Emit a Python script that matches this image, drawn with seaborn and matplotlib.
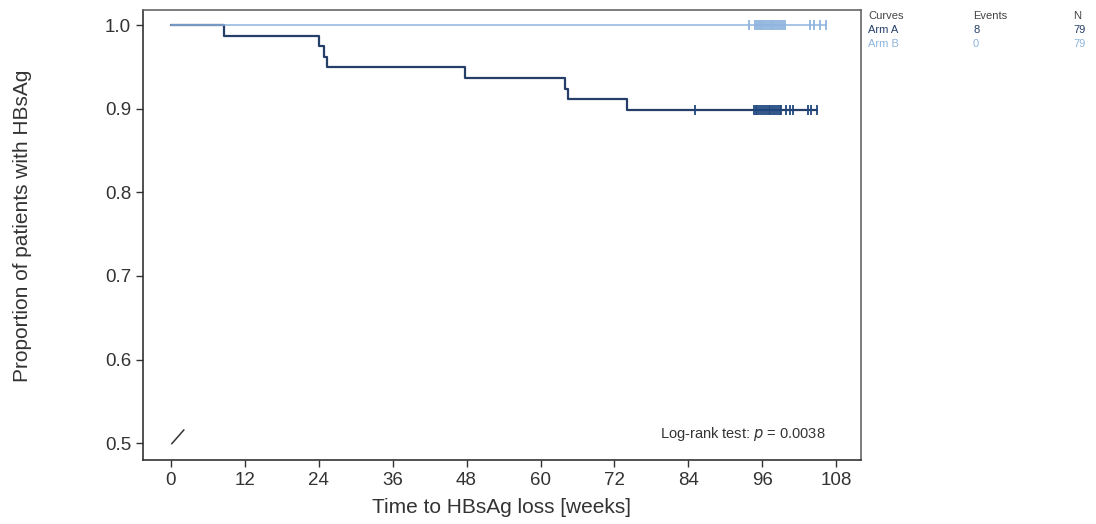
import numpy as np
import pandas as pd
import matplotlib
matplotlib.use("Agg")
import matplotlib.pyplot as plt
import seaborn as sns

# ---------------- data ----------------
arm_labels = ["Arm A", "Arm B"]
arm_colors = ["#263f68", "#8fb4de"]
marker_colors = ["#20487f", "#8fb4de"]
n_patients = [79, 79]

arm_a_event_times = [8.7, 24.0, 24.8, 25.4, 47.7, 64.0, 64.4, 74.0]
arm_a_censor_times = [85.0,
                      94.6, 94.9, 95.2, 95.5, 95.8, 96.1, 96.4, 96.7, 97.0, 97.3,
                      97.6, 97.9, 98.2, 98.5, 98.8, 99.1,
                      99.9, 100.5, 101.0, 103.4, 103.9, 104.9]
arm_a_censor_counts = [1,
                       4, 4, 4, 4, 4, 4, 4, 4, 4, 4,
                       4, 4, 4, 4, 4, 4,
                       1, 1, 1, 1, 1, 1]

arm_b_event_times = []
arm_b_censor_times = [93.8,
                      94.8, 95.1, 95.4, 95.7, 96.0, 96.3, 96.6, 96.9, 97.2, 97.5,
                      97.8, 98.1, 98.4, 98.7, 99.0, 99.3, 99.6,
                      103.8, 104.3, 105.4, 106.4]
arm_b_censor_counts = [1,
                       4, 4, 5, 5, 5, 5, 5, 5, 5, 5,
                       4, 4, 4, 4, 3, 3, 4,
                       1, 1, 1, 1]

x_ticks = [0, 12, 24, 36, 48, 60, 72, 84, 96, 108]
y_ticks = [0.5, 0.6, 0.7, 0.8, 0.9, 1.0]
p_value = 0.0038


def km_curve(n, event_times, censor_times, censor_counts):
    ev = pd.DataFrame({"t": event_times, "d": 1, "c": 0})
    ce = pd.DataFrame({"t": censor_times, "d": 0, "c": censor_counts})
    df = pd.concat([ev, ce]).groupby("t", as_index=False).sum().sort_values("t")
    at_risk = n
    s = 1.0
    xs, ys = [0.0], [1.0]
    cens_x, cens_y = [], []
    for t, d, c in zip(df["t"], df["d"], df["c"]):
        if d > 0:
            s *= (at_risk - d) / at_risk
        xs.append(t)
        ys.append(s)
        if c > 0:
            cens_x.append(t)
            cens_y.append(s)
        at_risk -= d + c
    return np.array(xs), np.array(ys), np.array(cens_x), np.array(cens_y)


# ---------------- figure ----------------
sns.set_style("ticks")
plt.rcParams["font.family"] = ["Liberation Sans", "DejaVu Sans"]

fig = plt.figure(figsize=(10.96, 5.24), dpi=100)
ax = fig.add_axes([143 / 1096, 1 - 460 / 524, 718 / 1096, 450 / 524])

arms = [
    (arm_a_event_times, arm_a_censor_times, arm_a_censor_counts),
    (arm_b_event_times, arm_b_censor_times, arm_b_censor_counts),
]
lws = [1.6, 1.1]
for i in [1, 0]:
    evt, ct, cc = arms[i]
    xs, ys, cx, cy = km_curve(n_patients[i], evt, ct, cc)
    sns.lineplot(x=xs, y=ys, drawstyle="steps-post", estimator=None, sort=False,
                 color=arm_colors[i], linewidth=lws[i], ax=ax, zorder=3 + i)
    sns.scatterplot(x=cx, y=cy, marker="|", s=55, linewidth=1.3,
                    color=marker_colors[i], ax=ax, zorder=4 + i)

ax.set_xlim(-4.5, 112)
ax.set_ylim(0.48, 1.018)
ax.set_xticks(x_ticks)
ax.set_xticklabels([str(v) for v in x_ticks])
ax.set_yticks(y_ticks)
ax.set_yticklabels([f"{v:.1f}" for v in y_ticks])
ax.tick_params(axis="both", labelsize=13.5, colors="#333333", length=5, width=1)
for name, sp in ax.spines.items():
    sp.set_color("#333333" if name in ("left", "bottom") else "#666666")
    sp.set_linewidth(1.2)

ax.set_xlabel("Time to HBsAg loss [weeks]", fontsize=15, color="#333333")
ax.set_ylabel("Proportion of patients with HBsAg", fontsize=15, color="#333333")
ax.xaxis.set_label_coords(0.5, -0.085)
ax.yaxis.set_label_coords(-0.155, 0.52)

# axis break mark near origin
ax.plot([0.040, 0.057], [0.036, 0.067], transform=ax.transAxes,
        color="#333333", linewidth=1.1, clip_on=False)

ax.text(0.951, 0.058, f"Log-rank test: $p$ = {p_value}", transform=ax.transAxes,
        ha="right", va="center", fontsize=10.5, color="#333333")

# legend table
col_x = [868 / 1096, 973 / 1096, 1073 / 1096]
row_y = [1 - 16 / 524, 1 - 30 / 524, 1 - 44 / 524]
headers = ["Curves", "Events", "N"]
for cx_, h in zip(col_x, headers):
    fig.text(cx_, row_y[0], h, fontsize=8, color="#444444", va="center", ha="left")
for i, lab in enumerate(arm_labels):
    n_events = len(arms[i][0])
    for cx_, val in zip(col_x, [lab, str(n_events), str(n_patients[i])]):
        fig.text(cx_, row_y[i + 1], val, fontsize=8, color=arm_colors[i],
                 va="center", ha="left")

fig.savefig("out.png", dpi=100)
